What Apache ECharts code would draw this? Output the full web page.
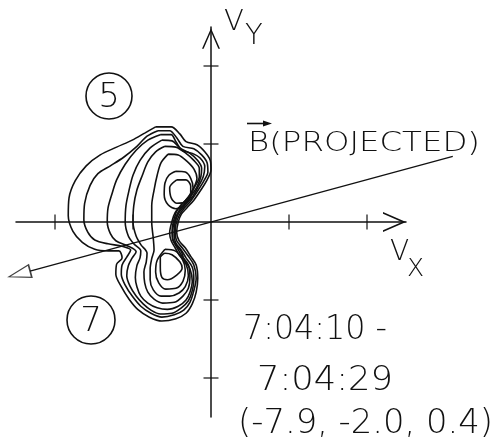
<!DOCTYPE html>
<html>
<head>
<meta charset="utf-8">
<script src="https://cdn.jsdelivr.net/npm/echarts@6/dist/echarts.min.js"></script>
<style>
  html, body { margin: 0; padding: 0; background: #fff; }
  #chart { width: 496px; height: 448px; }
</style>
</head>
<body>
<div id="chart"></div>
<script>
// Velocity-space distribution contours, in units of one axis tick (Vx, Vy).
// Outer contours enclose both peaks (5 above the Vx axis, 7 below it).
const contour1 = [[-0.71,1.22],[-0.51,1.22],[-0.40,1.13],[-0.32,1.03],[-0.18,0.99],[-0.08,0.90],[-0.01,0.79],[0.00,0.67],[-0.05,0.54],[-0.13,0.41],[-0.22,0.28],[-0.31,0.18],[-0.38,0.10],[-0.42,0.00],[-0.44,-0.13],[-0.41,-0.24],[-0.33,-0.33],[-0.26,-0.44],[-0.19,-0.55],[-0.17,-0.72],[-0.19,-0.90],[-0.24,-1.05],[-0.32,-1.17],[-0.45,-1.24],[-0.63,-1.27],[-0.79,-1.22],[-0.94,-1.12],[-1.05,-0.99],[-1.15,-0.83],[-1.22,-0.67],[-1.21,-0.54],[-1.14,-0.46],[-1.18,-0.37],[-1.32,-0.37],[-1.49,-0.35],[-1.65,-0.26],[-1.77,-0.12],[-1.83,0.08],[-1.82,0.31],[-1.74,0.53],[-1.60,0.72],[-1.42,0.86],[-1.21,0.96],[-1.01,1.05],[-0.85,1.14]];
const contour2 = [[-0.68,1.17],[-0.53,1.17],[-0.44,1.08],[-0.36,0.97],[-0.22,0.94],[-0.12,0.86],[-0.05,0.76],[-0.04,0.64],[-0.09,0.53],[-0.17,0.40],[-0.26,0.27],[-0.35,0.17],[-0.41,0.08],[-0.45,-0.03],[-0.46,-0.14],[-0.44,-0.24],[-0.37,-0.33],[-0.29,-0.44],[-0.22,-0.55],[-0.19,-0.72],[-0.22,-0.88],[-0.27,-1.03],[-0.35,-1.13],[-0.47,-1.19],[-0.63,-1.22],[-0.77,-1.17],[-0.90,-1.08],[-1.01,-0.95],[-1.10,-0.81],[-1.15,-0.67],[-1.14,-0.55],[-1.08,-0.45],[-1.03,-0.36],[-1.14,-0.31],[-1.32,-0.28],[-1.49,-0.23],[-1.58,-0.13],[-1.63,0.03],[-1.62,0.24],[-1.55,0.47],[-1.45,0.62],[-1.29,0.72],[-1.12,0.83],[-0.95,0.97],[-0.82,1.10]];
const contour3 = [[-0.65,1.12],[-0.51,1.12],[-0.45,1.03],[-0.37,0.92],[-0.24,0.88],[-0.14,0.82],[-0.08,0.71],[-0.10,0.58],[-0.17,0.44],[-0.24,0.32],[-0.33,0.22],[-0.41,0.12],[-0.45,0.03],[-0.47,-0.08],[-0.47,-0.18],[-0.45,-0.27],[-0.38,-0.36],[-0.32,-0.46],[-0.24,-0.58],[-0.22,-0.73],[-0.24,-0.88],[-0.29,-1.01],[-0.38,-1.10],[-0.50,-1.17],[-0.65,-1.18],[-0.77,-1.13],[-0.87,-1.05],[-0.96,-0.95],[-1.04,-0.82],[-1.08,-0.69],[-1.06,-0.56],[-1.01,-0.46],[-0.96,-0.38],[-1.06,-0.31],[-1.22,-0.24],[-1.29,-0.15],[-1.33,0.00],[-1.32,0.18],[-1.27,0.36],[-1.21,0.54],[-1.10,0.74],[-0.96,0.92],[-0.81,1.05]];
const contour4 = [[-0.63,1.05],[-0.50,1.04],[-0.40,0.95],[-0.27,0.88],[-0.17,0.79],[-0.12,0.69],[-0.13,0.58],[-0.18,0.45],[-0.26,0.33],[-0.35,0.22],[-0.42,0.13],[-0.47,0.00],[-0.49,-0.10],[-0.49,-0.21],[-0.45,-0.29],[-0.38,-0.38],[-0.35,-0.47],[-0.27,-0.60],[-0.24,-0.76],[-0.27,-0.90],[-0.32,-1.00],[-0.42,-1.08],[-0.56,-1.12],[-0.69,-1.10],[-0.81,-1.04],[-0.90,-0.95],[-0.95,-0.83],[-0.97,-0.71],[-0.95,-0.56],[-0.91,-0.46],[-0.90,-0.37],[-0.99,-0.28],[-1.06,-0.18],[-1.10,0.00],[-1.09,0.21],[-1.05,0.41],[-1.00,0.60],[-0.91,0.79],[-0.78,0.95]];
const contour5 = [[-0.59,0.97],[-0.45,0.96],[-0.32,0.88],[-0.22,0.79],[-0.15,0.69],[-0.15,0.58],[-0.21,0.45],[-0.28,0.33],[-0.37,0.23],[-0.44,0.14],[-0.46,0.08],[-0.49,-0.03],[-0.50,-0.13],[-0.49,-0.23],[-0.44,-0.32],[-0.37,-0.44],[-0.29,-0.55],[-0.27,-0.71],[-0.29,-0.85],[-0.36,-0.95],[-0.47,-1.03],[-0.62,-1.04],[-0.73,-0.99],[-0.81,-0.90],[-0.85,-0.78],[-0.86,-0.64],[-0.83,-0.51],[-0.82,-0.40],[-0.90,-0.29],[-0.96,-0.18],[-1.00,0.00],[-0.99,0.21],[-0.95,0.41],[-0.88,0.60],[-0.81,0.77],[-0.71,0.90]];
const contour6 = [[-0.55,0.87],[-0.42,0.86],[-0.31,0.78],[-0.22,0.68],[-0.18,0.56],[-0.22,0.44],[-0.29,0.32],[-0.38,0.22],[-0.46,0.12],[-0.50,0.01],[-0.53,-0.14],[-0.51,-0.24],[-0.46,-0.33],[-0.41,-0.42],[-0.32,-0.54],[-0.29,-0.69],[-0.33,-0.83],[-0.41,-0.91],[-0.53,-0.95],[-0.64,-0.95],[-0.74,-0.87],[-0.78,-0.74],[-0.78,-0.60],[-0.76,-0.47],[-0.73,-0.36],[-0.74,-0.21],[-0.76,0.00],[-0.76,0.21],[-0.73,0.41],[-0.69,0.60],[-0.64,0.76]];
// Closed rings around each peak
const upperRing = [[-0.45,0.65],[-0.33,0.64],[-0.26,0.56],[-0.23,0.44],[-0.27,0.31],[-0.35,0.21],[-0.45,0.17],[-0.55,0.22],[-0.60,0.35],[-0.59,0.50],[-0.54,0.60]];
const upperCore = [[-0.44,0.54],[-0.32,0.54],[-0.26,0.46],[-0.26,0.35],[-0.32,0.26],[-0.44,0.24],[-0.51,0.31],[-0.53,0.44]];
const lowerRing = [[-0.59,-0.35],[-0.46,-0.37],[-0.37,-0.47],[-0.33,-0.62],[-0.36,-0.76],[-0.45,-0.85],[-0.58,-0.86],[-0.67,-0.78],[-0.71,-0.64],[-0.69,-0.49]];
const lowerCore = [[-0.65,-0.45],[-0.59,-0.40],[-0.50,-0.42],[-0.40,-0.51],[-0.37,-0.59],[-0.44,-0.68],[-0.56,-0.74],[-0.63,-0.71],[-0.65,-0.58]];

// Axis ticks (same on both axes) and the projected magnetic field direction
const tickValues = [-2, -1, 1, 2];
const bProjected = [[-2.32, -0.63], [3.10, 0.84]];
const intervalLines = ['7:04:10 -', '7:04:29', '(-7.9, -2.0, 0.4)'];
const peakLabels = ['5', '7'];

const ink = '#111';
const fontFamily = '"DejaVu Sans", "Liberation Sans", sans-serif';
const chevron = 'path://M10,0 L20,23 L18.2,23 L10,4.1 L1.8,23 L0,23 Z';

// Open arrowhead at the tail of the B line: centred half its length past the line end
const headLength = 0.28; // axis units
const bdx = bProjected[0][0] - bProjected[1][0];
const bdy = bProjected[0][1] - bProjected[1][1];
const blen = Math.hypot(bdx, bdy);
const headCentre = [bProjected[0][0] + bdx / blen * headLength / 2,
                    bProjected[0][1] + bdy / blen * headLength / 2];
const headRotate = Math.atan2(bdy, bdx) * 180 / Math.PI - 90;

const contours = [contour1, contour2, contour3, contour4, contour5, contour6,
                  upperRing, upperCore, lowerRing, lowerCore];

const contourSeries = contours.map(c => ({
  type: 'line',
  data: c.concat([c[0]]),
  symbol: 'none',
  smooth: 0.3,
  silent: true,
  z: 3,
  lineStyle: { color: ink, width: 1.6 }
}));

// The B line reaches past the Vx/Vy frame, so it lives on a second, full-page
// cartesian system with the same origin and scale.
const fieldSeries = {
  type: 'line',
  xAxisIndex: 1, yAxisIndex: 1,
  data: bProjected,
  symbol: 'none',
  silent: true,
  z: 4,
  lineStyle: { color: ink, width: 1.3 }
};
const fieldHead = {
  type: 'scatter',
  xAxisIndex: 1, yAxisIndex: 1,
  data: [headCentre],
  symbol: 'triangle',
  symbolSize: [13, 22],
  symbolRotate: headRotate,
  silent: true,
  z: 4,
  itemStyle: { color: '#fff', borderColor: ink, borderWidth: 1.3 }
};

const xTickSeries = {
  type: 'scatter', silent: true, z: 5,
  symbol: 'rect', symbolSize: [1.5, 15],
  itemStyle: { color: ink },
  data: tickValues.map(v => [v, 0])
};
const yTickSeries = {
  type: 'scatter', silent: true, z: 5,
  symbol: 'rect', symbolSize: [15, 1.5],
  itemStyle: { color: ink },
  data: tickValues.map(v => [0, v])
};

const measureCtx = document.createElement('canvas').getContext('2d');

function label(text, x, y, size, align, weight) {
  return {
    type: 'text', x: x, y: y, silent: true, z: 10,
    style: {
      text: text, fill: ink, fontFamily: fontFamily, fontSize: size,
      fontWeight: weight || 200, textVerticalAlign: 'middle', textAlign: align || 'left'
    }
  };
}

// Stretch a lettering line horizontally so it spans the given width
function spanned(text, x, y, size, width) {
  measureCtx.font = '200 ' + size + 'px ' + fontFamily;
  const el = label(text, x, y, size);
  el.scaleX = width / measureCtx.measureText(text).width;
  return el;
}

const hiddenAxis = {
  type: 'value', show: false,
  axisTick: { show: false }, axisLabel: { show: false }, splitLine: { show: false }
};
const axisCommon = {
  type: 'value', min: -2.5, max: 2.5,
  axisTick: { show: false }, axisLabel: { show: false }, splitLine: { show: false }
};

const option = {
  animation: false,
  backgroundColor: '#fff',
  grid: [
    { left: 16, top: 27, width: 390, height: 390 },
    { left: 0, top: 0, width: 496, height: 448 }
  ],
  xAxis: [
    Object.assign({}, axisCommon, {
      gridIndex: 0,
      axisLine: { show: true, onZero: true, lineStyle: { color: ink, width: 1.5 },
        symbol: ['none', chevron], symbolSize: [20, 23], symbolOffset: [0, -11.5] }
    }),
    Object.assign({}, hiddenAxis, { gridIndex: 1, min: -211 / 78, max: 285 / 78 })
  ],
  yAxis: [
    Object.assign({}, axisCommon, {
      gridIndex: 0,
      axisLine: { show: true, onZero: true, lineStyle: { color: ink, width: 1.5 },
        symbol: ['none', chevron], symbolSize: [18, 23], symbolOffset: [0, -11.5] }
    }),
    Object.assign({}, hiddenAxis, { gridIndex: 1, min: -226 / 78, max: 222 / 78 })
  ],
  series: contourSeries.concat([fieldSeries, fieldHead, xTickSeries, yTickSeries]),
  graphic: [
    label('V', 224, 22, 29),
    label('Y', 245, 36, 29),
    label('V', 390, 253, 28),
    label('X', 407, 269, 25),
    spanned('B(PROJECTED)', 248, 144, 27, 232),
    { type: 'line', silent: true, shape: { x1: 247, y1: 123.5, x2: 268, y2: 123.5 },
      style: { stroke: ink, lineWidth: 1.6 } },
    { type: 'polygon', silent: true, shape: { points: [[263, 120.5], [272, 123.5], [263, 126.5]] },
      style: { fill: ink } },
    spanned(intervalLines[0], 243, 330, 33, 144),
    spanned(intervalLines[1], 257, 381, 33, 136),
    spanned(intervalLines[2], 238, 424, 33, 255),
    { type: 'circle', silent: true, shape: { cx: 109, cy: 96, r: 23 },
      style: { fill: 'none', stroke: ink, lineWidth: 1.6 } },
    label(peakLabels[0], 109, 98, 34, 'center', 300),
    { type: 'circle', silent: true, shape: { cx: 91, cy: 320, r: 24 },
      style: { fill: 'none', stroke: ink, lineWidth: 1.6 } },
    label(peakLabels[1], 91, 322, 34, 'center', 300)
  ]
};

const chart = echarts.init(document.getElementById('chart'), null, { renderer: 'canvas' });
chart.setOption(option);
</script>
</body>
</html>
